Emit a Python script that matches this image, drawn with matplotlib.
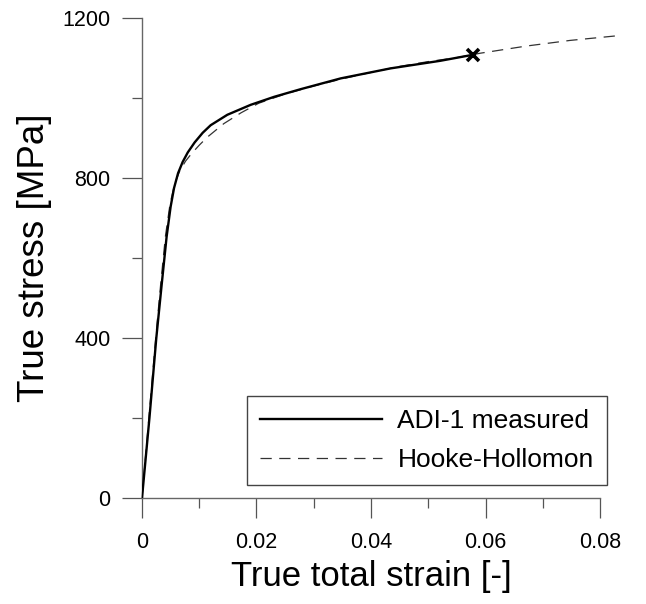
import matplotlib
matplotlib.use("Agg")
import matplotlib.pyplot as plt
from matplotlib.ticker import MultipleLocator

plt.rcParams['font.family'] = ['Liberation Sans', 'DejaVu Sans']

# Measured true stress-strain curve (ADI-1)
measured_strain = [0.0, 0.0013, 0.0025, 0.0034, 0.0043, 0.0050, 0.0056, 0.0063,
                   0.0071, 0.0080, 0.0092, 0.0106, 0.0120, 0.0149, 0.0190, 0.0231,
                   0.0277, 0.0347, 0.0434, 0.0521, 0.0578]
measured_stress = [0, 200, 400, 528, 653, 728, 775, 812,
                   840, 864, 889, 913, 932, 958, 983, 1003,
                   1022, 1049, 1074, 1093, 1108]

# Hooke-Hollomon fit
fit_strain = [0.0, 0.0012, 0.0024, 0.0033, 0.0041, 0.0049, 0.0057, 0.0066,
              0.0076, 0.0086, 0.0100, 0.0114, 0.0143, 0.0173, 0.0204, 0.0250,
              0.0300, 0.0350, 0.0400, 0.0450, 0.0500, 0.0550, 0.0591, 0.0672,
              0.0748, 0.0826]
fit_stress = [0, 200, 400, 540, 655, 735, 785, 818,
              842, 860, 882, 902, 936, 963, 987, 1010,
              1030, 1048, 1064, 1079, 1091, 1101, 1112, 1130,
              1144, 1155]

# Fracture point
fracture_strain = [0.0578]
fracture_stress = [1108]

x_ticks = [0, 0.02, 0.04, 0.06, 0.08]
x_ticklabels = ['0', '0.02', '0.04', '0.06', '0.08']
y_ticks = [0, 400, 800, 1200]
y_ticklabels = ['0', '400', '800', '1200']

fig = plt.figure(figsize=(6.46, 6.04), dpi=100)
ax = fig.add_axes([0.2198, 0.1755, 0.709, 0.7947])

ax.plot(measured_strain, measured_stress, color='black', lw=1.7,
        label='ADI-1 measured', zorder=3)
ax.plot(fit_strain, fit_stress, color='#333333', lw=0.9, dashes=(9, 6),
        label='Hooke-Hollomon', clip_on=False, zorder=2)
ax.plot(fracture_strain, fracture_stress, linestyle='none', marker='x',
        color='black', markersize=9, markeredgewidth=2.6, zorder=4)

ax.set_xlim(0, 0.08)
ax.set_ylim(0, 1200)
ax.set_xticks(x_ticks)
ax.set_xticklabels(x_ticklabels)
ax.set_yticks(y_ticks)
ax.set_yticklabels(y_ticklabels)
ax.xaxis.set_minor_locator(MultipleLocator(0.01))
ax.yaxis.set_minor_locator(MultipleLocator(200))

for side in ('top', 'right'):
    ax.spines[side].set_visible(False)
for side in ('left', 'bottom'):
    ax.spines[side].set_color('#666666')
    ax.spines[side].set_linewidth(1.0)

ax.tick_params(which='major', direction='out', length=14.5, width=0.9,
               color='#555555', labelsize=15.5, pad=8)
ax.tick_params(which='minor', direction='out', length=7.2, width=0.9,
               color='#555555')
ax.tick_params(axis='x', which='major', pad=10)

ax.set_xlabel('True total strain [-]', fontsize=25, labelpad=5)
ax.set_ylabel('True stress [MPa]', fontsize=26.5, labelpad=8)

leg = ax.legend(loc='lower right', bbox_to_anchor=(1.015, 0.027),
                fontsize=19, frameon=True, fancybox=False, framealpha=1,
                edgecolor='#444444', handlelength=4.6, handletextpad=0.6,
                borderpad=0.5, labelspacing=0.55, borderaxespad=0)
leg.get_frame().set_linewidth(1.0)

fig.savefig('out.png', dpi=100)
